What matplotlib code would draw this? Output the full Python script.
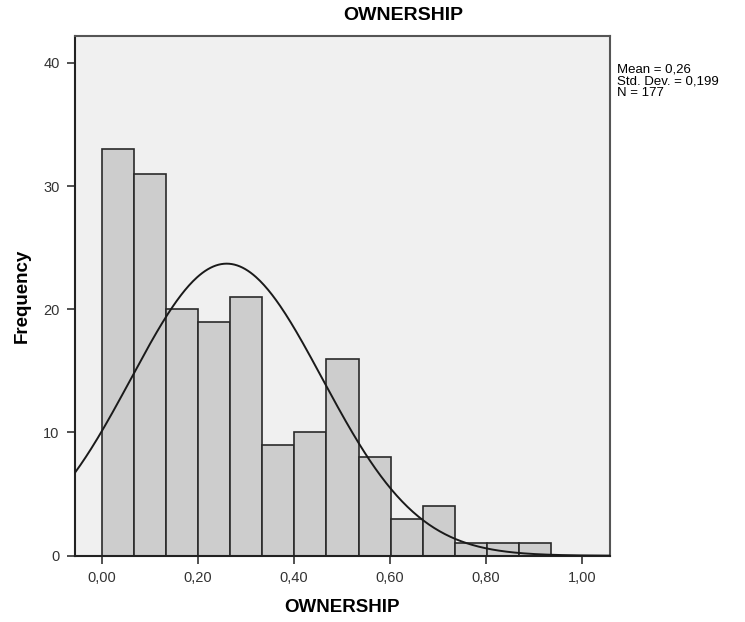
import numpy as np
import matplotlib
matplotlib.use("Agg")
import matplotlib.pyplot as plt

# histogram counts read from the SPSS output
counts = [33, 31, 20, 19, 21, 9, 10, 16, 8, 3, 4, 1, 1, 1]
bin_start = 0.0
bin_width = 0.0668
mean, sd, n = 0.26, 0.199, 177
xticks = [0.0, 0.2, 0.4, 0.6, 0.8, 1.0]
xtick_labels = ["0,00", "0,20", "0,40", "0,60", "0,80", "1,00"]
yticks = [0, 10, 20, 30, 40]
stats_text = "Mean = 0,26\nStd. Dev. = 0,199\nN = 177"

plt.rcParams["font.family"] = ["Liberation Sans", "DejaVu Sans"]

fig = plt.figure(figsize=(7.45, 6.22), dpi=100)
ax = fig.add_axes([75 / 745, 66.3 / 622, 535 / 745, 519.7 / 622])
ax.set_facecolor("#f0f0f0")

edges = bin_start + bin_width * np.arange(len(counts))
ax.bar(edges, counts, width=bin_width, align="edge",
       color="#cdcdcd", edgecolor="#2a2a2a", linewidth=1.2, zorder=2)

# fitted normal curve scaled to counts
xmin, xmax = -0.0556, 1.0577
xs = np.linspace(xmin, xmax, 400)
ys = n * bin_width / (sd * np.sqrt(2 * np.pi)) * np.exp(-0.5 * ((xs - mean) / sd) ** 2)
ax.plot(xs, ys, color="#1a1a1a", lw=1.4, zorder=3)

ax.set_xlim(xmin, xmax)
ax.set_ylim(0, 42.18)
ax.set_xticks(xticks)
ax.set_xticklabels(xtick_labels)
ax.set_yticks(yticks)
ax.tick_params(direction="out", length=6, width=1.2, color="#333333",
               labelsize=10.5, labelcolor="#333333", pad=5)

for side in ["left", "bottom"]:
    ax.spines[side].set_color("#222222")
    ax.spines[side].set_linewidth(1.5)
for side in ["top", "right"]:
    ax.spines[side].set_color("#555555")
    ax.spines[side].set_linewidth(1.5)

fig.text(403 / 745, 1 - 15 / 622, "OWNERSHIP", ha="center", va="center",
         fontsize=14, fontweight="bold")
fig.text(342 / 745, 1 - 608 / 622, "OWNERSHIP", ha="center", va="center",
         fontsize=13.5, fontweight="bold")
fig.text(22 / 745, 1 - 296 / 622, "Frequency", ha="center", va="center",
         rotation=90, fontsize=13.5, fontweight="bold")
fig.text(617 / 745, 1 - 64 / 622, stats_text, ha="left", va="top",
         fontsize=9.5, linespacing=0.92)

fig.savefig("out.png", dpi=100)
